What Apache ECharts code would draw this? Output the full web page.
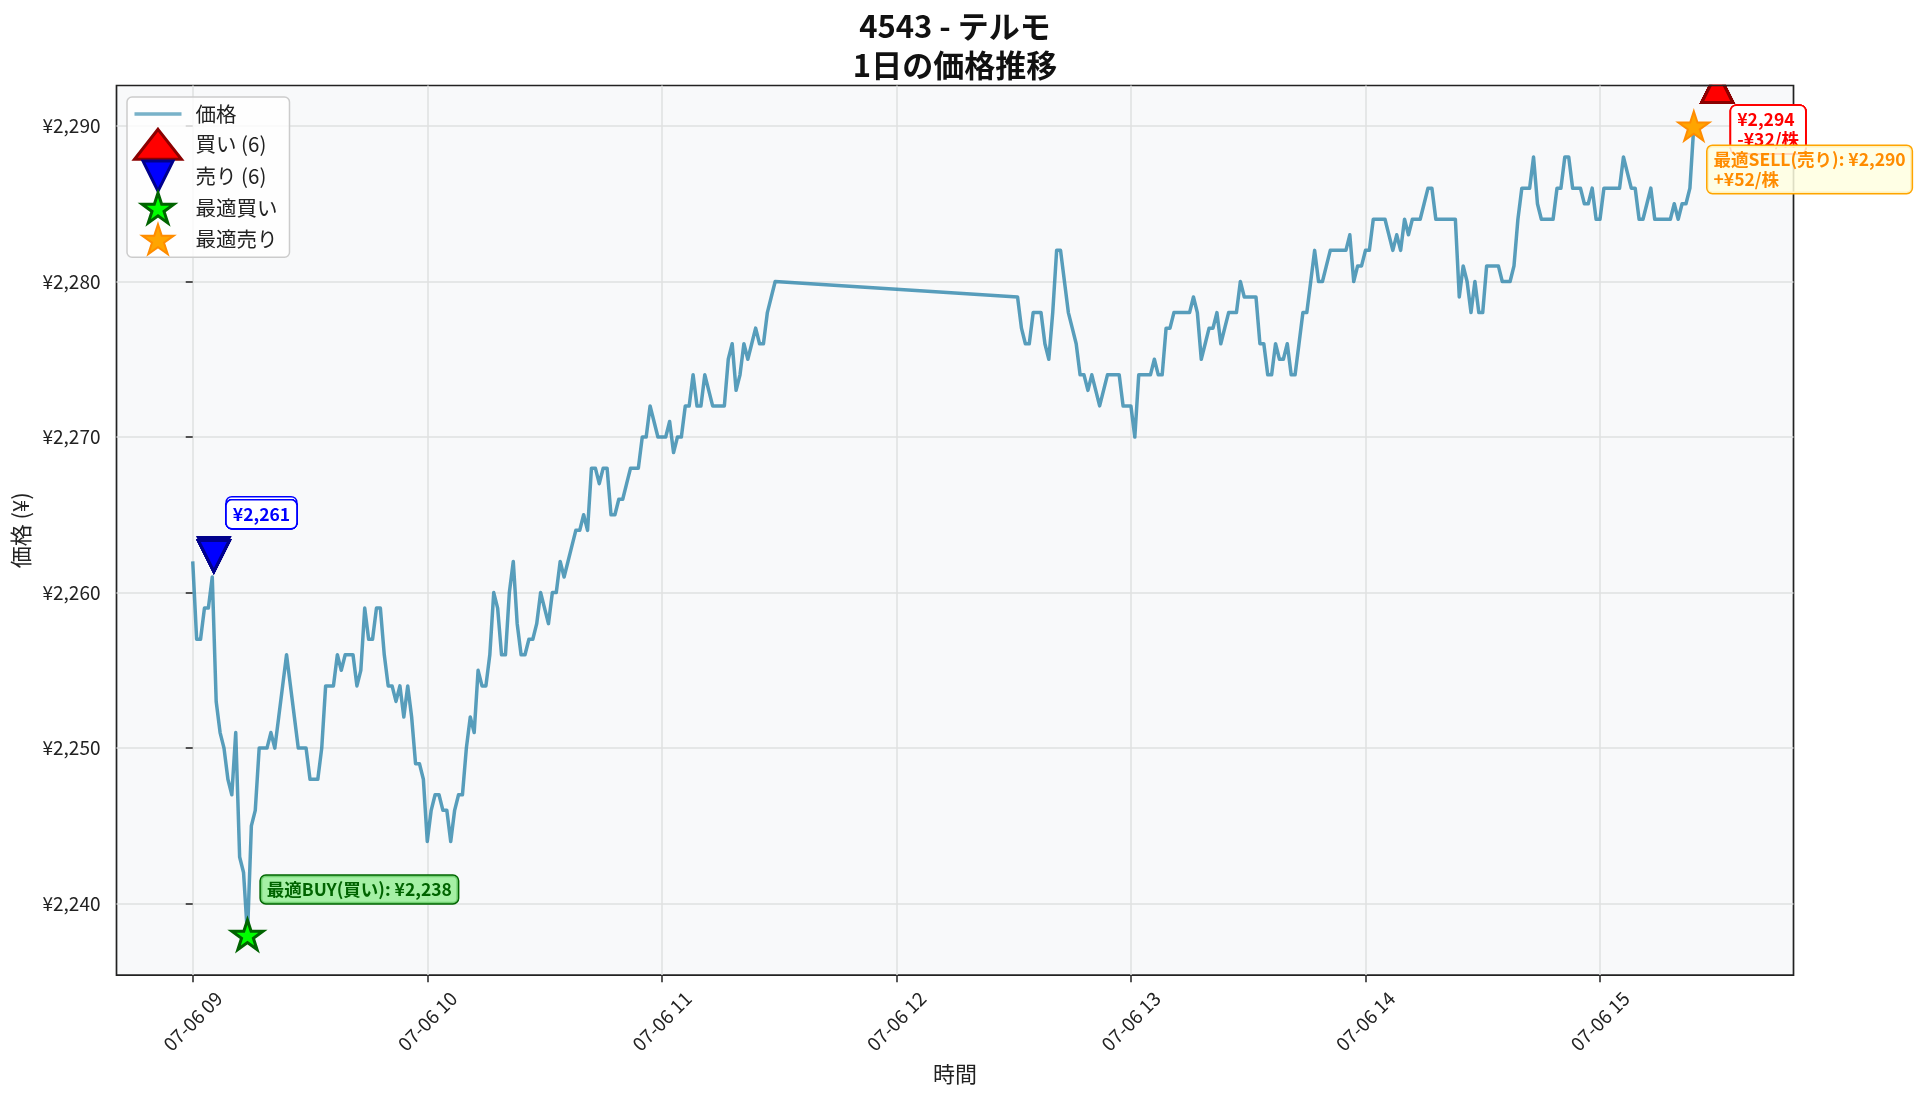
<!DOCTYPE html>
<html>
<head>
<meta charset="utf-8">
<script src="https://cdn.jsdelivr.net/npm/echarts@6/dist/echarts.min.js"></script>
<style>
  html, body { margin: 0; padding: 0; background: #fff; }
  #chart { width: 1920px; height: 1101px; }
</style>
</head>
<body>
<div id="chart"></div>
<script>
// x = minutes after 09:00, one price per minute
const amStart = 0;    // 09:00
const pmStart = 211;  // 12:31
const amPrices = [
  2262, 2257, 2257, 2259, 2259, 2261, 2253, 2251, 2250, 2248,
  2247, 2251, 2243, 2242, 2238, 2245, 2246, 2250, 2250, 2250,
  2251, 2250, 2252, 2254, 2256, 2254, 2252, 2250, 2250, 2250,
  2248, 2248, 2248, 2250, 2254, 2254, 2254, 2256, 2255, 2256,
  2256, 2256, 2254, 2255, 2259, 2257, 2257, 2259, 2259, 2256,
  2254, 2254, 2253, 2254, 2252, 2254, 2252, 2249, 2249, 2248,
  2244, 2246, 2247, 2247, 2246, 2246, 2244, 2246, 2247, 2247,
  2250, 2252, 2251, 2255, 2254, 2254, 2256, 2260, 2259, 2256,
  2256, 2260, 2262, 2258, 2256, 2256, 2257, 2257, 2258, 2260,
  2259, 2258, 2260, 2260, 2262, 2261, 2262, 2263, 2264, 2264,
  2265, 2264, 2268, 2268, 2267, 2268, 2268, 2265, 2265, 2266,
  2266, 2267, 2268, 2268, 2268, 2270, 2270, 2272, 2271, 2270,
  2270, 2270, 2271, 2269, 2270, 2270, 2272, 2272, 2274, 2272,
  2272, 2274, 2273, 2272, 2272, 2272, 2272, 2275, 2276, 2273,
  2274, 2276, 2275, 2276, 2277, 2276, 2276, 2278, 2279, 2280
];
const pmPrices = [
  2279, 2277, 2276, 2276, 2278, 2278, 2278, 2276, 2275, 2278,
  2282, 2282, 2280, 2278, 2277, 2276, 2274, 2274, 2273, 2274,
  2273, 2272, 2273, 2274, 2274, 2274, 2274, 2272, 2272, 2272,
  2270, 2274, 2274, 2274, 2274, 2275, 2274, 2274, 2277, 2277,
  2278, 2278, 2278, 2278, 2278, 2279, 2278, 2275, 2276, 2277,
  2277, 2278, 2276, 2277, 2278, 2278, 2278, 2280, 2279, 2279,
  2279, 2279, 2276, 2276, 2274, 2274, 2276, 2275, 2275, 2276,
  2274, 2274, 2276, 2278, 2278, 2280, 2282, 2280, 2280, 2281,
  2282, 2282, 2282, 2282, 2282, 2283, 2280, 2281, 2281, 2282,
  2282, 2284, 2284, 2284, 2284, 2283, 2282, 2283, 2282, 2284,
  2283, 2284, 2284, 2284, 2285, 2286, 2286, 2284, 2284, 2284,
  2284, 2284, 2284, 2279, 2281, 2280, 2278, 2280, 2278, 2278,
  2281, 2281, 2281, 2281, 2280, 2280, 2280, 2281, 2284, 2286,
  2286, 2286, 2288, 2285, 2284, 2284, 2284, 2284, 2286, 2286,
  2288, 2288, 2286, 2286, 2286, 2285, 2285, 2286, 2284, 2284,
  2286, 2286, 2286, 2286, 2286, 2288, 2287, 2286, 2286, 2284,
  2284, 2285, 2286, 2284, 2284, 2284, 2284, 2284, 2285, 2284,
  2285, 2285, 2286, 2290
];

const xTicks = [0, 60, 120, 180, 240, 300, 360];
const xTickLabels = ['07-06 09', '07-06 10', '07-06 11', '07-06 12', '07-06 13', '07-06 14', '07-06 15'];
const yTicks = [2240, 2250, 2260, 2270, 2280, 2290];

const buyTimes = [390, 390, 390, 390, 390, 390];
const buyPrices = [2294, 2294, 2294, 2294, 2294, 2294];
const buyPnl = -32;
const sellTimes = [5.4, 5.4, 5.4, 5.4, 5.4, 5.4];
const sellPrices = [2261.2, 2261, 2261, 2261, 2261, 2261];
const bestBuy = [14, 2238];
const bestSell = [384, 2290];
const bestSellGain = 52;

// style constants
const FONT = '"Noto Sans CJK JP", "Noto Sans", sans-serif';
const BUY_SHIFT = -1.5;   // markers drawn just off the price
const SELL_SHIFT = 1.35;
const G = { left: 116.5, right: 126.5, top: 85.5, bottom: 125.8 };

function yen(v) {
  return '¥' + Math.round(v).toLocaleString('en-US');
}
function signedYen(v) {
  return (v < 0 ? '-' : '+') + '¥' + Math.abs(v) + '/株';
}

const pricePts = [];
amPrices.forEach((p, i) => pricePts.push([amStart + i, p]));
pmPrices.forEach((p, i) => pricePts.push([pmStart + i, p]));

const STAR = 'path://M100,0 L122.45,69.1 L195.11,69.1 L136.33,111.8 L158.78,180.9 L100,138.2 L41.22,180.9 L63.67,111.8 L4.89,69.1 L77.55,69.1 Z';
const DOWN_TRI = 'path://M0,0 L200,0 L100,200 Z';
const LINE_ICON = 'path://M0,0 L470,0 L470,34 L0,34 Z';

const labelBase = {
  show: true,
  position: 'inside',
  align: 'left',
  verticalAlign: 'top',
  fontFamily: FONT,
  fontSize: 17.5,
  fontWeight: 'bold',
  lineHeight: 19.5,
  padding: [4, 6],
  borderWidth: 1.5,
  borderRadius: 5
};

const chart = echarts.init(document.getElementById('chart'));

const option = {
  backgroundColor: '#ffffff',
  animation: false,
  title: {
    text: '4543 - テルモ\n1日の価格推移',
    left: 955,
    textAlign: 'center',
    top: 7,
    padding: 0,
    textStyle: {
      fontFamily: FONT,
      fontSize: 31,
      fontWeight: 'bold',
      color: '#111',
      lineHeight: 39
    }
  },
  grid: {
    left: G.left, right: G.right, top: G.top, bottom: G.bottom,
    show: true,
    backgroundColor: '#f8f9fa',
    borderColor: '#222',
    borderWidth: 1.7
  },
  legend: {
    orient: 'vertical',
    left: 127,
    top: 97,
    padding: [2, 12, 2, 6],
    itemWidth: 47,
    itemHeight: 30,
    itemGap: -1.2,
    selectedMode: false,
    backgroundColor: 'rgba(255,255,255,0.8)',
    borderColor: '#cccccc',
    borderWidth: 1.5,
    borderRadius: 5,
    textStyle: { fontFamily: FONT, fontSize: 20.5, lineHeight: 30, color: '#222', padding: [0, 0, 0, 9] },
    data: [
      { name: '価格', icon: LINE_ICON, itemStyle: { color: 'rgba(46,134,171,0.8)', borderWidth: 0 } },
      { name: '買い (6)', itemStyle: { color: '#ff0000', borderColor: '#8b0000', borderWidth: 3, opacity: 1 } },
      { name: '売り (6)', itemStyle: { color: '#0000ff', borderColor: '#00008b', borderWidth: 3, opacity: 1 } },
      { name: '最適買い', itemStyle: { color: '#00ff00', borderColor: '#006400', borderWidth: 3, opacity: 1 } },
      { name: '最適売り', itemStyle: { color: '#ffa500', borderColor: '#ff8c00', borderWidth: 2, opacity: 1 } }
    ]
  },
  xAxis: {
    type: 'value',
    min: -19.5,
    max: 409.5,
    name: '時間',
    nameLocation: 'middle',
    nameGap: 87,
    nameTextStyle: { fontFamily: FONT, fontSize: 22, color: '#222' },
    axisLine: { show: false },
    axisTick: { show: true, length: 7, lineStyle: { color: '#222', width: 1.5 }, customValues: xTicks },
    axisLabel: {
      customValues: xTicks,
      rotate: 45,
      align: 'center',
      verticalAlign: 'middle',
      margin: 46,
      fontFamily: FONT,
      fontSize: 19,
      color: '#222',
      formatter: v => xTickLabels[xTicks.indexOf(v)]
    },
    splitLine: { show: true, lineStyle: { color: '#dfe0e1', width: 1.5 } }
  },
  yAxis: {
    type: 'value',
    min: 2235.4,
    max: 2292.6,
    name: '価格 (¥)',
    nameLocation: 'middle',
    nameGap: 78,
    nameTextStyle: { fontFamily: FONT, fontSize: 22, color: '#222' },
    axisLine: { show: false },
    axisTick: { show: true, length: 7, lineStyle: { color: '#222', width: 1.5 }, customValues: yTicks },
    axisLabel: {
      customValues: yTicks,
      margin: 16,
      fontFamily: FONT,
      fontSize: 19,
      color: '#222',
      formatter: v => yen(v)
    },
    splitLine: { show: true, lineStyle: { color: '#dfe0e1', width: 1.5 } }
  },
  series: [
    {
      name: '価格',
      type: 'line',
      data: pricePts,
      symbol: 'none',
      z: 2,
      lineStyle: { color: '#2E86AB', opacity: 0.8, width: 3.5, join: 'round' },
      itemStyle: { color: '#2E86AB', opacity: 0.8 }
    },
    {
      name: '買い (6)',
      type: 'scatter',
      z: 3,
      symbol: 'triangle',
      symbolSize: 31,
      itemStyle: { color: '#ff0000', borderColor: '#8b0000', borderWidth: 3, opacity: 1 },
      data: buyTimes.map((t, i) => [t, buyPrices[i] + BUY_SHIFT, buyPrices[i]]),
      label: Object.assign({}, labelBase, {
        offset: [14, 19],
        color: '#ff0000',
        backgroundColor: '#ffffff',
        borderColor: '#ff0000',
        formatter: p => yen(p.data[2]) + '\n' + signedYen(buyPnl)
      })
    },
    {
      name: '売り (6)',
      type: 'scatter',
      z: 3,
      symbol: DOWN_TRI,
      symbolSize: 31,
      itemStyle: { color: '#0000ff', borderColor: '#00008b', borderWidth: 3, opacity: 1 },
      data: sellTimes.map((t, i) => [t, sellPrices[i] + SELL_SHIFT, sellPrices[i]]),
      label: Object.assign({}, labelBase, {
        offset: [13, -55.5],
        color: '#0000ff',
        backgroundColor: '#ffffff',
        borderColor: '#0000ff',
        formatter: p => yen(p.data[2])
      })
    },
    {
      name: '最適買い',
      type: 'scatter',
      z: 4,
      symbol: STAR,
      symbolKeepAspect: true,
      symbolSize: 31,
      itemStyle: { color: '#00ff00', borderColor: '#006400', borderWidth: 3, opacity: 1 },
      data: [bestBuy],
      label: Object.assign({}, labelBase, {
        offset: [13.4, -59],
        color: '#006400',
        backgroundColor: 'rgba(144,238,144,0.8)',
        borderColor: '#006400',
        formatter: p => '最適BUY(買い): ' + yen(p.data[1])
      })
    },
    {
      name: '最適売り',
      type: 'scatter',
      z: 5,
      symbol: STAR,
      symbolKeepAspect: true,
      symbolSize: 31,
      itemStyle: { color: '#ffa500', borderColor: '#ff8c00', borderWidth: 2, opacity: 1 },
      data: [bestSell],
      label: Object.assign({}, labelBase, {
        offset: [13.7, 20],
        color: '#ff8c00',
        backgroundColor: 'rgba(255,255,224,0.85)',
        borderColor: '#ffa500',
        formatter: p => '最適SELL(売り): ' + yen(p.data[1]) + '\n' + signedYen(bestSellGain)
      })
    }
  ],
  graphic: [
    // clip the buy marker at the top of the plot, as the axes do
    { type: 'rect', z: 100, shape: { x: 1690, y: 40, width: 60, height: G.top - 40 - 0.9 }, style: { fill: '#ffffff' } },
    { type: 'line', z: 101, shape: { x1: 1690, y1: G.top, x2: 1750, y2: G.top }, style: { stroke: '#222', lineWidth: 1.7 } }
  ]
};

chart.setOption(option);
window.addEventListener('resize', () => chart.resize());
</script>
</body>
</html>
